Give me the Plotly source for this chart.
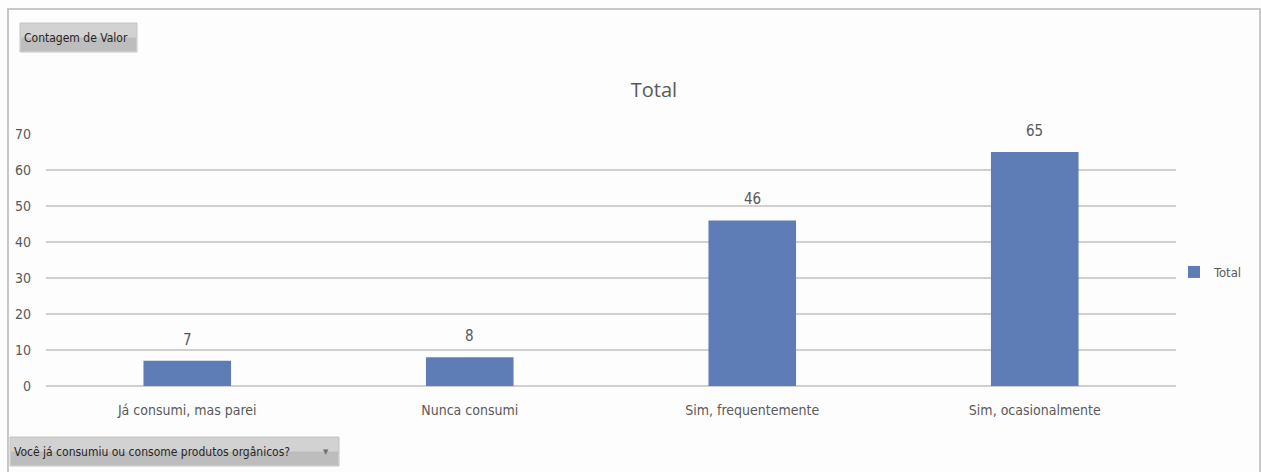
import plotly.graph_objects as go

categorias = ["Já consumi, mas parei", "Nunca consumi", "Sim, frequentemente", "Sim, ocasionalmente"]
contagens = [7, 8, 46, 65]
marcas_y = [0, 10, 20, 30, 40, 50, 60, 70]

FONTE = "Liberation Sans Narrow, DejaVu Sans Condensed, Arial Narrow, sans-serif"
CINZA = "#595959"
AZUL = "#5e7cb5"

W, H = 1261, 472
ML, MR, MT, MB = 46, 85, 134, 86
PW, PH = W - ML - MR, H - MT - MB


def px(x):
    return (x - ML) / PW


def py(y):
    return (H - MB - y) / PH


fig = go.Figure()
fig.add_trace(go.Bar(
    x=categorias, y=contagens, name="Total",
    marker=dict(color=AZUL, line=dict(width=0)),
    width=0.31, cliponaxis=False,
))

# rótulos de valor acima de cada coluna
for c, v in zip(categorias, contagens):
    fig.add_annotation(x=c, y=v, text=str(v), showarrow=False, yanchor="bottom",
                       yshift=10, font=dict(family=FONTE, size=15, color=CINZA))

# moldura cinza do gráfico dinâmico
fig.add_shape(type="line", xref="paper", yref="paper", x0=px(7), x1=px(1262), y0=py(9), y1=py(9),
              line=dict(color="#c8c8c8", width=2))
fig.add_shape(type="line", xref="paper", yref="paper", x0=px(8), x1=px(8), y0=py(9), y1=py(473),
              line=dict(color="#c8c8c8", width=2))
fig.add_shape(type="line", xref="paper", yref="paper", x0=px(1260), x1=px(1260), y0=py(9), y1=py(473),
              line=dict(color="#c8c8c8", width=2))

# botões de campo
for (x0, y0, x1, y1, rotulo, seta) in [
    (20, 23, 137, 52, "Contagem de Valor", False),
    (10, 437, 339, 466, "Você já consumiu ou consome produtos orgânicos?", True),
]:
    fig.add_shape(type="rect", xref="paper", yref="paper", x0=px(x0), x1=px(x1), y0=py(y1), y1=py(y0),
                  line=dict(color="#c4c4c4", width=1), fillcolor="#d2d2d2", layer="above")
    fig.add_shape(type="rect", xref="paper", yref="paper", x0=px(x0 + 1), x1=px(x1 - 1), y0=py(y1 - 1), y1=py((y0 + y1) / 2),
                  line=dict(width=0), fillcolor="#bdbdbd", layer="above")
    fig.add_annotation(xref="paper", yref="paper", x=px(x0 + 2), y=py((y0 + y1) / 2),
                       xanchor="left", yanchor="middle", text=rotulo, showarrow=False,
                       font=dict(family=FONTE, size=12, color="#262626"))
    if seta:
        fig.add_annotation(xref="paper", yref="paper", x=px(x1 - 13), y=py((y0 + y1) / 2),
                           xanchor="center", yanchor="middle", text="▼", showarrow=False,
                           font=dict(family="DejaVu Sans", size=7, color="#707070"))

fig.update_layout(
    width=W, height=H,
    margin=dict(l=ML, r=MR, t=MT, b=MB, autoexpand=False),
    paper_bgcolor="#fdfdfd", plot_bgcolor="#fdfdfd",
    title=dict(text="Total", x=px(632), xanchor="center", y=1 - 90 / H, yanchor="middle",
               font=dict(family="Open Sans, DejaVu Sans", size=20, color=CINZA)),
    showlegend=True,
    legend=dict(xref="container", yref="container", x=1174 / W, y=1 - 272 / H,
                xanchor="left", yanchor="middle",
                font=dict(family=FONTE, size=13, color=CINZA), itemwidth=30,
                bgcolor="rgba(0,0,0,0)"),
    bargap=0.69,
    xaxis=dict(showgrid=False, showline=False, ticks="", zeroline=False,
               tickfont=dict(family=FONTE, size=14, color=CINZA), ticklabelstandoff=14),
    yaxis=dict(range=[0, 70], tickvals=marcas_y, showgrid=True, gridcolor="#d0d0d0", gridwidth=2,
               zeroline=True, zerolinecolor="#d0d0d0", zerolinewidth=2, showline=False, ticks="",
               tickfont=dict(family=FONTE, size=14, color=CINZA), ticklabelstandoff=14),
)

fig.write_html("out.html")
